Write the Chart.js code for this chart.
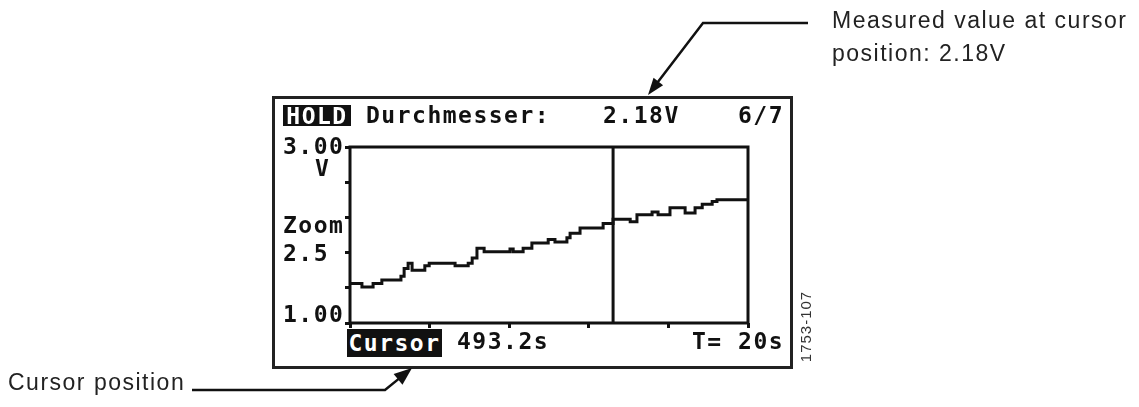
<!DOCTYPE html>
<html>
<head>
<meta charset="utf-8">
<script src="https://cdn.jsdelivr.net/npm/chart.js@4"></script>
<style>
  body { margin: 0; background: #fff; }
  #wrap { position: relative; width: 1139px; height: 407px; overflow: hidden; }
  #wrap canvas, #wrap svg { position: absolute; left: 0; top: 0; }
  .lcd { position: absolute; font: bold 23px "DejaVu Sans Mono", monospace; letter-spacing: 1.5px; line-height: 23px; color: #111; white-space: pre; }
  .inv { background: #111; color: #fff; text-align: center; }
  .note { position: absolute; font: 23px "Liberation Sans", Arial, sans-serif; letter-spacing: 1.5px; line-height: 33px; color: #222; white-space: pre; }
  #frame { position: absolute; left: 272px; top: 96px; width: 515px; height: 267px; border: 3px solid #222; }
  #fig { position: absolute; left: 765px; top: 318px; width: 80px; height: 17px; line-height: 17px; font: 15px "Liberation Sans", Arial, sans-serif; letter-spacing: 1px; color: #333; white-space: nowrap; transform: rotate(-90deg); text-align: center; }
</style>
</head>
<body>
<div id="wrap">
  <div id="frame"></div>
  <canvas id="scope" width="1139" height="407"></canvas>
  <svg id="arrows" width="1139" height="407"></svg>

  <div class="lcd inv" style="left:283px;top:105px;width:68px;height:21px;line-height:22px;">HOLD</div>
  <div class="lcd" style="left:366px;top:104px;">Durchmesser:</div>
  <div class="lcd" id="readout" style="left:603px;top:104px;"></div>
  <div class="lcd" style="left:738px;top:104px;">6/7</div>

  <div class="lcd" style="left:283px;top:135px;">3.00</div>
  <div class="lcd" style="left:315px;top:157px;">V</div>
  <div class="lcd" style="left:283px;top:214px;">Zoom</div>
  <div class="lcd" style="left:283px;top:242px;">2.5</div>
  <div class="lcd" style="left:283px;top:303px;">1.00</div>

  <div class="lcd inv" style="left:347px;top:329px;width:95px;height:28px;line-height:29px;">Cursor</div>
  <div class="lcd" style="left:457px;top:330px;">493.2s</div>
  <div class="lcd" style="left:692px;top:330px;">T= 20s</div>

  <div class="note" style="left:832px;top:4px;">Measured value at cursor
position: 2.18V</div>
  <div class="note" style="left:8px;top:366px;">Cursor position</div>
  <div id="fig">1753-107</div>
</div>

<script>
// trace: voltage steps, each value holds from its start time (s) until the next one
const stepTimes = [0, 3.0, 5.8, 8.0, 12.8, 13.6, 14.6, 15.6, 18.8, 19.9,
  26.4, 29.7, 30.7, 31.9, 33.7, 40.2, 41.0, 43.5, 45.7, 49.8,
  51.5, 54.5, 55.3, 57.8, 63.6, 66.1, 70.4, 72.1, 75.9, 77.4,
  80.4, 84.2, 86.7, 88.5, 91.0, 92.2, 100];
const voltages = [1.45, 1.41, 1.45, 1.49, 1.53, 1.62, 1.68, 1.60, 1.65, 1.68,
  1.65, 1.68, 1.74, 1.85, 1.81, 1.84, 1.81, 1.85, 1.91, 1.95,
  1.92, 1.97, 2.02, 2.08, 2.13, 2.18, 2.15, 2.23, 2.26, 2.23,
  2.31, 2.25, 2.31, 2.35, 2.38, 2.40, 2.40];

const yTicks = [1.0, 1.4, 1.8, 2.2, 2.6, 3.0];
const xTicks = [0, 20, 40, 60, 80, 100];
const cursorTime = 66.1;
const cursorValue = 2.18;

document.getElementById('readout').textContent = cursorValue.toFixed(2) + 'V';

const ink = '#111';

// plot box + cursor line
const scopePlugin = {
  id: 'scope',
  afterDatasetsDraw(chart) {
    const { ctx, chartArea: a, scales } = chart;
    ctx.save();
    ctx.strokeStyle = ink;
    ctx.lineWidth = 3;
    ctx.strokeRect(a.left, a.top, a.right - a.left, a.bottom - a.top);
    const cx = scales.x.getPixelForValue(cursorTime);
    ctx.beginPath();
    ctx.moveTo(cx, a.top);
    ctx.lineTo(cx, a.bottom);
    ctx.stroke();
    ctx.restore();
  }
};

new Chart(document.getElementById('scope'), {
  type: 'line',
  data: {
    datasets: [{
      data: stepTimes.map((t, i) => ({ x: t, y: voltages[i] })),
      borderColor: ink,
      borderWidth: 3,
      pointRadius: 0,
      stepped: 'before',
      fill: false
    }]
  },
  options: {
    responsive: false,
    animation: false,
    layout: { padding: { left: 345, top: 147, right: 391, bottom: 79 } },
    plugins: { legend: { display: false }, tooltip: { enabled: false } },
    scales: {
      x: {
        type: 'linear', min: 0, max: 100,
        afterBuildTicks: s => { s.ticks = xTicks.map(v => ({ value: v })); },
        afterFit: s => { s.height = 5; },
        ticks: { display: false },
        border: { display: false },
        grid: { drawOnChartArea: false, drawTicks: true, tickLength: 5, tickWidth: 3, tickColor: ink }
      },
      y: {
        min: 1, max: 3,
        afterBuildTicks: s => { s.ticks = yTicks.map(v => ({ value: v })); },
        afterFit: s => { s.width = 5; },
        ticks: { display: false },
        border: { display: false },
        grid: { drawOnChartArea: false, drawTicks: true, tickLength: 5, tickWidth: 3, tickColor: ink }
      }
    }
  },
  plugins: [scopePlugin]
});

// callout arrows
function arrow(points, headLen, headHalf) {
  const n = points.length;
  const [tx, ty] = points[n - 1];
  const [px, py] = points[n - 2];
  const len = Math.hypot(tx - px, ty - py);
  const ux = (tx - px) / len, uy = (ty - py) / len;
  const bx = tx - ux * headLen, by = ty - uy * headLen;
  const line = points.slice(0, n - 1).concat([[bx + ux * 2, by + uy * 2]]);
  const head = [[tx, ty], [bx - uy * headHalf, by + ux * headHalf], [bx + uy * headHalf, by - ux * headHalf]];
  return `<polyline points="${line.map(p => p.join(',')).join(' ')}" fill="none" stroke="#111" stroke-width="2.5"/>` +
         `<polygon points="${head.map(p => p.join(',')).join(' ')}" fill="#111"/>`;
}
document.getElementById('arrows').innerHTML =
  arrow([[808, 23], [703, 23], [648, 95]], 17, 6) +
  arrow([[192, 390], [385, 390], [412, 368]], 18, 7);
</script>
</body>
</html>
